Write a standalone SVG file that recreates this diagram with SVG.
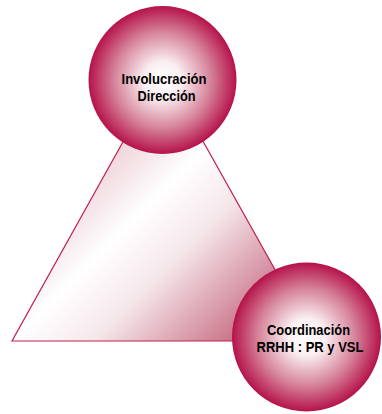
<svg xmlns="http://www.w3.org/2000/svg" width="382" height="414" viewBox="0 0 382 414">
  <defs>
    <linearGradient id="triFill" gradientUnits="userSpaceOnUse" x1="125" y1="125" x2="310" y2="310">
      <stop offset="0" stop-color="#ebcdd5"/>
      <stop offset="0.28" stop-color="#ffffff"/>
      <stop offset="0.5" stop-color="#f5e6ea"/>
      <stop offset="1" stop-color="#bb4d67"/>
    </linearGradient>
    <radialGradient id="ballFill" cx="0.5" cy="0.5" r="0.5">
      <stop offset="0" stop-color="#ffffff"/>
      <stop offset="0.25" stop-color="#faeef1"/>
      <stop offset="0.65" stop-color="#d6849a"/>
      <stop offset="1" stop-color="#b5124a"/>
    </radialGradient>
  </defs>
  <style>
    .ball { fill: url(#ballFill); }
    .label { font-family: "Liberation Sans", Arial, sans-serif; font-weight: bold; font-size: 15px; fill: #000000; text-anchor: middle; }
    .tri { fill: url(#triFill); stroke: #c0204f; stroke-width: 1.2; }
  </style>
  <g id="connectors">
    <polygon class="tri" points="163,70 12,341 315,341"/>
  </g>
  <g id="node-involucracion">
    <circle class="ball" cx="162.5" cy="80" r="74"/>
    <text class="label" x="164" y="83.5" textLength="85" lengthAdjust="spacingAndGlyphs">Involucración</text>
    <text class="label" x="166.5" y="100.7" textLength="58" lengthAdjust="spacingAndGlyphs">Dirección</text>
  </g>
  <g id="node-coordinacion">
    <circle class="ball" cx="306.5" cy="337" r="74.5"/>
    <text class="label" x="308.5" y="334.5" textLength="83" lengthAdjust="spacingAndGlyphs">Coordinación</text>
    <text class="label" x="310" y="351.7" textLength="107" lengthAdjust="spacingAndGlyphs">RRHH : PR y VSL</text>
  </g>
</svg>
